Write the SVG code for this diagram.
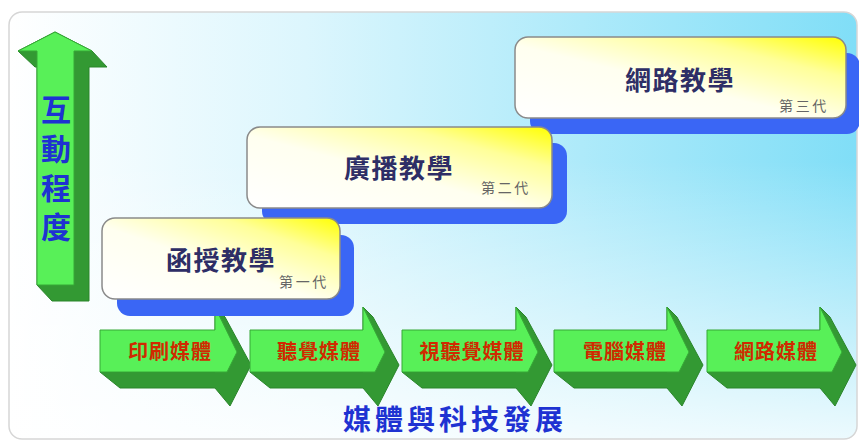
<svg xmlns="http://www.w3.org/2000/svg" width="859" height="441" viewBox="0 0 859 441">
<defs>
<linearGradient id="bgH" x1="0" y1="0" x2="1" y2="0">
<stop offset="0" stop-color="#ffffff"/>
<stop offset="0.35" stop-color="#dcf6fd"/>
<stop offset="1" stop-color="#80def7"/>
</linearGradient>
<linearGradient id="bgV" x1="0" y1="0" x2="0" y2="1">
<stop offset="0.35" stop-color="#ffffff" stop-opacity="0"/>
<stop offset="1" stop-color="#ffffff" stop-opacity="0.85"/>
</linearGradient>
<linearGradient id="boxG" x1="0" y1="1" x2="1" y2="0">
<stop offset="0" stop-color="#ffffff"/>
<stop offset="0.45" stop-color="#fffff0"/>
<stop offset="0.75" stop-color="#ffff99"/>
<stop offset="1" stop-color="#ffff00"/>
</linearGradient>
<style>
.cjk{font-family:"Noto Sans CJK TC","Noto Sans CJK SC",sans-serif;}
.box{fill:url(#boxG);stroke:#8a8a8a;stroke-width:1.5;}
.shadow{fill:#3a66f5;}
.main{font-size:26px;font-weight:bold;fill:#2e2e66;text-anchor:middle;letter-spacing:1.5px;}
.gen{font-size:14px;fill:#666666;text-anchor:middle;letter-spacing:2.7px;}
.front{fill:#58f058;stroke:#36a836;stroke-width:1;}
.dark{fill:#339933;stroke:#2a852a;stroke-width:1;}
.atext{font-size:20px;font-weight:bold;fill:#d02a00;text-anchor:middle;letter-spacing:1px;}
.blue{font-weight:bold;fill:#1e32d2;}
</style>
</defs>
<g id="background">
<rect x="9" y="12" width="848" height="427" rx="13" fill="url(#bgH)"/>
<rect x="9" y="12" width="848" height="427" rx="13" fill="url(#bgV)" stroke="#d6d6d6" stroke-width="1.5"/>
</g>
<g id="interaction-axis">
<polygon class="dark" points="18,51 35,67 37,67 37,285 52,301 89,301 89,67 107,67 92,51 55,32"/>
<polygon class="front" points="55,32 92,51 74,51 74,285 37,285 37,51 18,51"/>
<text class="cjk blue" font-size="30" writing-mode="vertical-rl" letter-spacing="9" x="56" y="95">互動程度</text>
</g>
<g id="media-arrows">
<g id="arrow-print">
<polygon class="dark" points="100,372 120,388 215,388 230,406 251,365 225,317 215,307 215,372"/>
<polygon class="front" points="100,330 215,330 215,307 237,352 227,372 100,372"/>
<text class="cjk atext" x="170" y="359">印刷媒體</text>
</g>
<g id="arrow-audio">
<polygon class="dark" points="250,372 270,388 363,388 378,406 399,365 373,317 363,307 363,372"/>
<polygon class="front" points="250,330 363,330 363,307 385,352 375,372 250,372"/>
<text class="cjk atext" x="319" y="359">聽覺媒體</text>
</g>
<g id="arrow-av">
<polygon class="dark" points="402,372 422,388 516,388 531,406 552,365 526,317 516,307 516,372"/>
<polygon class="front" points="402,330 516,330 516,307 538,352 528,372 402,372"/>
<text class="cjk atext" x="472" y="359">視聽覺媒體</text>
</g>
<g id="arrow-computer">
<polygon class="dark" points="554,372 574,388 667,388 682,406 703,365 677,317 667,307 667,372"/>
<polygon class="front" points="554,330 667,330 667,307 689,352 679,372 554,372"/>
<text class="cjk atext" x="625" y="359">電腦媒體</text>
</g>
<g id="arrow-network">
<polygon class="dark" points="707,372 727,388 820,388 835,406 856,365 830,317 820,307 820,372"/>
<polygon class="front" points="707,330 820,330 820,307 842,352 832,372 707,372"/>
<text class="cjk atext" x="776" y="359">網路媒體</text>
</g>
</g>
<g id="gen3">
<rect class="shadow" x="530" y="53" width="330" height="81" rx="13"/>
<rect class="box" x="515" y="37" width="331" height="81" rx="13"/>
<text class="cjk main" x="680" y="90">網路教學</text>
<text class="cjk gen" x="804" y="111">第三代</text>
</g>
<g id="gen2">
<rect class="shadow" x="262" y="143" width="305" height="81" rx="13"/>
<rect class="box" x="247" y="127" width="305" height="81" rx="13"/>
<text class="cjk main" x="399" y="178">廣播教學</text>
<text class="cjk gen" x="506" y="193">第二代</text>
</g>
<g id="gen1">
<rect class="shadow" x="117" y="235" width="237" height="81" rx="13"/>
<rect class="box" x="102" y="218" width="238" height="81" rx="13"/>
<text class="cjk main" x="221" y="270">函授教學</text>
<text class="cjk gen" x="304" y="287">第一代</text>
</g>
<g id="axis-label">
<text class="cjk blue" font-size="28" letter-spacing="4" text-anchor="middle" x="455" y="430">媒體與科技發展</text>
</g>
</svg>
